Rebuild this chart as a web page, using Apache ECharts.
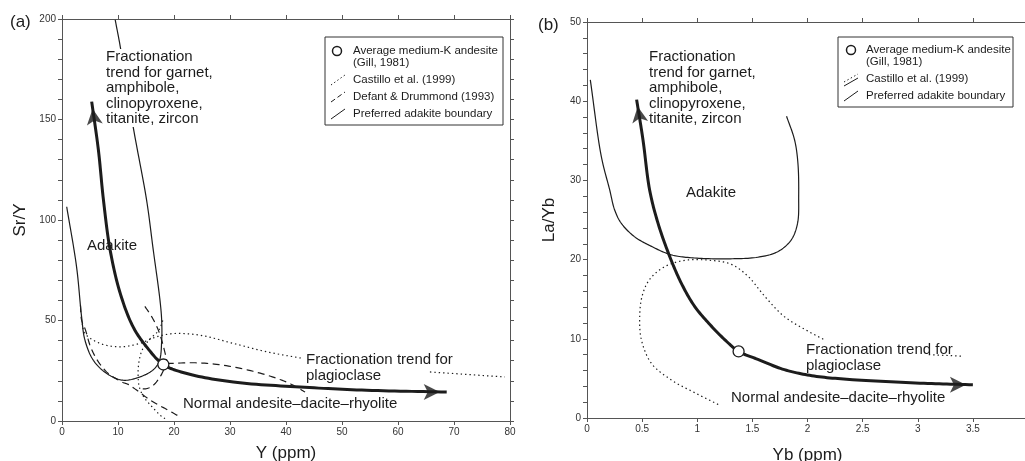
<!DOCTYPE html>
<html>
<head>
<meta charset="utf-8">
<script src="https://cdn.jsdelivr.net/npm/echarts@6/dist/echarts.min.js"></script>
<style>
  html, body { margin: 0; padding: 0; background: #fff; }
  #chart { width: 1025px; height: 461px; }
</style>
</head>
<body>
<div id="chart"></div>
<script>
// --- panel (a): Sr/Y vs Y ---
var aBoundary = [[0.84,106.6],[2.6,76.7],[3.5,51.8],[4.1,40.2],[5.6,30.2],[8.0,23.6],[10.9,20.3],[13.9,21.9],[16.3,25.5],[17.4,30],[17.8,40],[17.8,50],[17.5,60],[16.3,85],[15.1,110],[12.7,146.5],[10.4,186.3],[9.5,199.6]];
var aTrend = [[5.3,158.9],[6.5,134.8],[7.4,110],[8.6,85],[10.4,63.5],[12.7,46.8],[15.1,36.9],[18.1,28.1],[22.3,23.6],[30.6,19.4],[42.5,16.9],[54.4,15.3],[68.7,14.4]];
var aArrows = [[5.47,155.4,8],[67.45,14.45,-90]];
var aAndesite = [[18.1,28.1]];
var aCastilloUpper = [[3.6,48.5],[4.1,43.5],[6.8,38.6],[10.4,36.9],[13.9,38.6],[16.9,41.9],[19.9,43.5],[24.6,42.7],[30.6,38.6],[36.6,34.4],[43.1,31.1]];
var aCastilloTail = [[65.7,24.4],[79.1,21.9]];
var aCastilloLower = [[18,50],[17.3,45.2],[15.5,40.2],[14.3,35.2],[13.7,28.6],[13.6,21.9],[13.8,17.0],[14.6,12.0],[16.1,7.0],[17.9,2.0],[18.4,1.2]];
var aDefantLeft = [[3.3,57.6],[3.5,50.2],[4.2,45.2],[5.1,36.9],[6.5,29.4],[8.3,23.6],[10.7,19.4],[11.9,18.1],[13.5,15],[15.8,10.3],[19.0,5.3],[21.1,2.0]];
var aDefantMid = [[14.8,57],[16.0,52],[17.2,45.2],[18.3,35],[18.7,29],[18.4,26.9],[17.5,21.9],[16.3,17.8],[15.1,16.1],[13.9,16.1]];
var aDefantRight = [[18.7,28.6],[24.6,28.9],[30.6,26.9],[36.6,22.8],[40.7,18.6],[43.4,14.4]];

// --- panel (b): La/Yb vs Yb ---
var bBoundary = [[0.03,42.7],[0.13,33.0],[0.206,28.8],[0.25,26.3],[0.31,24.6],[0.43,22.9],[0.58,21.7],[0.765,20.6],[0.976,20.2],[1.28,20.1],[1.55,20.3],[1.73,21.0],[1.853,22.5],[1.91,24.6],[1.92,28.0],[1.913,32.2],[1.883,35.1],[1.81,38.1]];
var bTrend = [[0.45,40.2],[0.508,35.1],[0.568,28.8],[0.644,24.6],[0.75,20.4],[0.856,17.0],[0.976,14.1],[1.128,11.6],[1.279,9.5],[1.375,8.4],[1.55,7.4],[1.79,6.1],[2.06,5.3],[2.41,4.84],[3.02,4.4],[3.5,4.2]];
var bArrows = [[0.46,39.33,9],[3.437,4.2,-90]];
var bAndesite = [[1.375,8.4]];
var bCastillo = [[1.19,1.7],[0.976,3.2],[0.765,4.8],[0.584,6.9],[0.493,9.9],[0.478,12.8],[0.5,15.4],[0.568,17.5],[0.704,19.1],[0.886,19.9],[1.128,19.9],[1.31,19.4],[1.46,17.9],[1.61,15.4],[1.79,12.8],[2.0,11.0],[2.15,9.9]];
var bCastilloTail = [[3.1,8.0],[3.41,7.8]];

var ink = '#1c1c1c';
var axisInk = '#555';
var font = '"Liberation Sans", Arial, sans-serif';
var dotted = [1.4, 3];
var dashed = [7, 4.5];

var chart = echarts.init(document.getElementById('chart'), null, { renderer: 'canvas' });

// centripetal catmull-rom through pixel points
function spline(pts, steps) {
  if (pts.length < 3) return pts;
  var out = [pts[0]];
  function d(a, b) { return Math.max(Math.pow(Math.hypot(b[0] - a[0], b[1] - a[1]), 0.5), 1e-4); }
  function mix(a, b, ta, tb, t) {
    var u = (t - ta) / (tb - ta);
    return [a[0] + (b[0] - a[0]) * u, a[1] + (b[1] - a[1]) * u];
  }
  for (var i = 0; i < pts.length - 1; i++) {
    var p1 = pts[i], p2 = pts[i + 1];
    var p0 = i > 0 ? pts[i - 1] : [2 * p1[0] - p2[0], 2 * p1[1] - p2[1]];
    var p3 = i < pts.length - 2 ? pts[i + 2] : [2 * p2[0] - p1[0], 2 * p2[1] - p1[1]];
    var t0 = 0, t1 = t0 + d(p0, p1), t2 = t1 + d(p1, p2), t3 = t2 + d(p2, p3);
    for (var s = 1; s <= steps; s++) {
      var t = t1 + (t2 - t1) * s / steps;
      var a1 = mix(p0, p1, t0, t1, t), a2 = mix(p1, p2, t1, t2, t), a3 = mix(p2, p3, t2, t3, t);
      var b1 = mix(a1, a2, t0, t2, t), b2 = mix(a2, a3, t1, t3, t);
      out.push(mix(b1, b2, t1, t2, t));
    }
  }
  return out;
}

function xAx(grid, min, max, step, pos, name, gap) {
  return {
    type: 'value', gridIndex: grid, position: pos, min: min, max: max, interval: step,
    name: name, nameLocation: 'middle', nameGap: gap,
    nameTextStyle: { fontFamily: font, fontSize: 17, color: ink },
    axisLine: { onZero: false, lineStyle: { color: axisInk, width: 1 } },
    axisTick: { show: true, inside: false, length: 4, lineStyle: { color: axisInk } },
    axisLabel: { show: pos === 'bottom', margin: 6, fontFamily: font, fontSize: 10, color: '#333' },
    splitLine: { show: false }
  };
}
function yAx(grid, min, max, step, every, pos, name, gap) {
  return {
    type: 'value', gridIndex: grid, position: pos, min: min, max: max, interval: step,
    name: name, nameLocation: 'middle', nameGap: gap,
    nameTextStyle: { fontFamily: font, fontSize: 17, color: ink },
    axisLine: { onZero: false, lineStyle: { color: axisInk, width: 1 } },
    axisTick: { show: true, inside: false, length: 4, lineStyle: { color: axisInk } },
    axisLabel: {
      show: pos === 'left', margin: 6, fontFamily: font, fontSize: 10, color: '#333',
      formatter: function (v) { return v % every === 0 ? String(v) : ''; }
    },
    splitLine: { show: false }
  };
}
function curve(x, y, data, lw, type, z) {
  return {
    type: 'custom', xAxisIndex: x, yAxisIndex: y, data: data, silent: true, z: z || 2,
    encode: { x: 0, y: 1 },
    renderItem: function (params, api) {
      if (params.dataIndex !== 0) return null;
      var pts = data.map(function (p) { return api.coord(p); });
      return {
        type: 'polyline',
        shape: { points: spline(pts, 14) },
        style: { stroke: ink, fill: null, lineWidth: lw, lineDash: type === 'solid' ? null : type, lineJoin: 'round' }
      };
    }
  };
}
function arrows(x, y, data) {
  return {
    type: 'scatter', xAxisIndex: x, yAxisIndex: y, data: data, z: 5, silent: true,
    symbol: 'arrow', symbolSize: [12, 16],
    symbolRotate: function (v) { return v[2]; },
    itemStyle: { color: ink }
  };
}
function circle(x, y, data) {
  return {
    type: 'scatter', xAxisIndex: x, yAxisIndex: y, data: data, z: 6, silent: true,
    symbol: 'circle', symbolSize: 11,
    itemStyle: { color: '#fff', borderColor: ink, borderWidth: 1.3, opacity: 1 }
  };
}
function txt(x, y, s, size, extra) {
  var st = { text: s, x: x, y: y, fill: ink, font: size + 'px ' + font, textVerticalAlign: 'middle' };
  if (extra) for (var k in extra) st[k] = extra[k];
  return { type: 'text', z: 10, style: st };
}
function seg(x1, y1, x2, y2, dash) {
  return { type: 'line', z: 10, shape: { x1: x1, y1: y1, x2: x2, y2: y2 },
    style: { stroke: ink, lineWidth: 1, lineDash: dash || null } };
}

var legendA = [
  { type: 'rect', z: 9, shape: { x: 325, y: 37, width: 178, height: 88 }, style: { fill: '#fff', stroke: '#333', lineWidth: 1 } },
  { type: 'circle', z: 10, shape: { cx: 337, cy: 51, r: 4.5 }, style: { fill: '#fff', stroke: ink, lineWidth: 1.5 } },
  txt(353, 51, 'Average medium-K andesite', 11.5),
  txt(353, 63, '(Gill, 1981)', 11.5),
  seg(331, 85, 345, 75, [1.4, 2.5]),
  txt(353, 80, 'Castillo et al. (1999)', 11.5),
  seg(331, 102, 345, 92, [5, 3]),
  txt(353, 97, 'Defant & Drummond (1993)', 11.5),
  seg(331, 119, 345, 109),
  txt(353, 114, 'Preferred adakite boundary', 11.5)
];
var legendB = [
  { type: 'rect', z: 9, shape: { x: 838, y: 37, width: 175, height: 70 }, style: { fill: '#fff', stroke: '#333', lineWidth: 1 } },
  { type: 'circle', z: 10, shape: { cx: 851, cy: 50, r: 4.5 }, style: { fill: '#fff', stroke: ink, lineWidth: 1.5 } },
  txt(866, 50, 'Average medium-K andesite', 11.5),
  txt(866, 62, '(Gill, 1981)', 11.5),
  seg(844, 82, 858, 74, [1.4, 2.5]),
  seg(844, 86, 858, 78),
  txt(866, 79, 'Castillo et al. (1999)', 11.5),
  seg(844, 101, 858, 91),
  txt(866, 96, 'Preferred adakite boundary', 11.5)
];

var labelsText = [
  txt(10, 22, '(a)', 17),
  txt(538, 25, '(b)', 17),
  txt(106, 57, 'Fractionation\ntrend for garnet,\namphibole,\nclinopyroxene,\ntitanite, zircon', 15,
    { textVerticalAlign: 'top', y: 49, lineHeight: 15.6, backgroundColor: '#fff' }),
  txt(87, 246, 'Adakite', 15),
  txt(306, 360, 'Fractionation trend for', 15),
  txt(306, 376, 'plagioclase', 15),
  txt(183, 404, 'Normal andesite\u2013dacite\u2013rhyolite', 15),
  txt(649, 49, 'Fractionation\ntrend for garnet,\namphibole,\nclinopyroxene,\ntitanite, zircon', 15,
    { textVerticalAlign: 'top', lineHeight: 15.6 }),
  txt(686, 193, 'Adakite', 15),
  txt(806, 350, 'Fractionation trend for', 15),
  txt(806, 366, 'plagioclase', 15),
  txt(731, 398, 'Normal andesite\u2013dacite\u2013rhyolite', 15)
];

chart.setOption({
  animation: false,
  backgroundColor: '#fff',
  grid: [
    { left: 62, top: 19, width: 448, height: 402, outerBoundsMode: 'none', containLabel: false },
    { left: 587, top: 22, width: 441, height: 396, outerBoundsMode: 'none', containLabel: false }
  ],
  xAxis: [
    xAx(0, 0, 80, 10, 'bottom', 'Y (ppm)', 24),
    xAx(0, 0, 80, 10, 'top', '', 0),
    xAx(1, 0, 4, 0.5, 'bottom', 'Yb (ppm)', 29),
    xAx(1, 0, 4, 0.5, 'top', '', 0)
  ],
  yAxis: [
    yAx(0, 0, 200, 10, 50, 'left', 'Sr/Y', 33),
    yAx(0, 0, 200, 10, 50, 'right', '', 0),
    yAx(1, 0, 50, 2, 10, 'left', 'La/Yb', 29)
  ],
  series: [
    curve(0, 0, aBoundary, 1.2, 'solid'),
    curve(0, 0, aCastilloUpper, 1.2, dotted),
    curve(0, 0, aCastilloTail, 1.2, dotted),
    curve(0, 0, aCastilloLower, 1.2, dotted),
    curve(0, 0, aDefantLeft, 1.2, dashed),
    curve(0, 0, aDefantMid, 1.2, dashed),
    curve(0, 0, aDefantRight, 1.2, dashed),
    curve(0, 0, aTrend, 3, 'solid', 3),
    arrows(0, 0, aArrows),
    circle(0, 0, aAndesite),
    curve(2, 2, bBoundary, 1.2, 'solid'),
    curve(2, 2, bCastillo, 1.2, dotted),
    curve(2, 2, bCastilloTail, 1.2, dotted),
    curve(2, 2, bTrend, 3, 'solid', 3),
    arrows(2, 2, bArrows),
    circle(2, 2, bAndesite)
  ],
  graphic: labelsText.concat(legendA, legendB)
});
</script>
</body>
</html>
